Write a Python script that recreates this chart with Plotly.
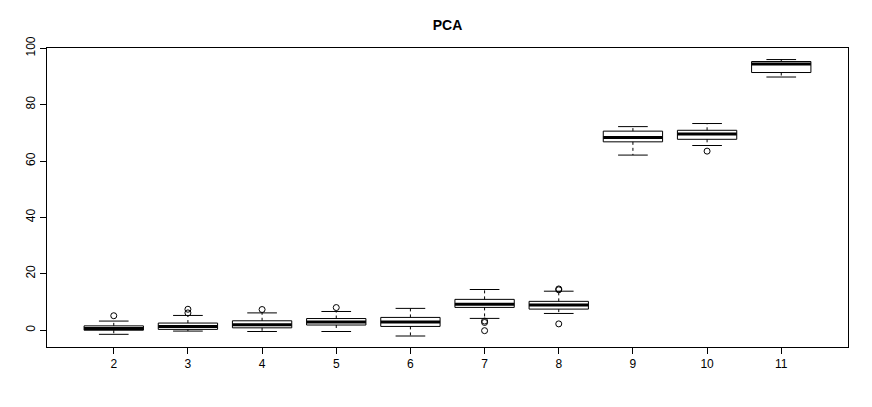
import plotly.graph_objects as go

groups = ["2", "3", "4", "5", "6", "7", "8", "9", "10", "11"]
lower_whisker = [-1.5, -0.35, -0.5, -0.5, -2.1, 4.15, 5.9, 62.1, 65.5, 89.8]
q1 = [-0.05, 0.25, 0.8, 1.8, 1.3, 8.05, 7.45, 66.8, 67.7, 91.4]
median = [0.6, 1.3, 1.9, 2.85, 2.85, 9.2, 8.9, 68.3, 69.6, 94.4]
q3 = [1.5, 2.5, 3.3, 4.1, 4.5, 10.9, 10.2, 70.6, 70.9, 95.3]
upper_whisker = [3.2, 5.2, 6.1, 6.6, 7.7, 14.4, 13.8, 72.2, 73.3, 96.0]
outlier_group = ["2", "3", "3", "4", "5", "7", "7", "7", "8", "8", "8", "10"]
outlier_value = [5.1, 6.1, 7.4, 7.3, 8.0, 3.2, 2.7, -0.2, 14.3, 14.6, 2.2, 63.5]

pos = {g: i + 1 for i, g in enumerate(groups)}
HW = 0.4   # half box width (R default width 0.8)
SW = 0.2   # half staple width

box_x, box_y = [], []
med_x, med_y = [], []
wh_x, wh_y = [], []
st_x, st_y = [], []
for i, g in enumerate(groups):
    p = pos[g]
    box_x += [p - HW, p + HW, p + HW, p - HW, p - HW, None]
    box_y += [q1[i], q1[i], q3[i], q3[i], q1[i], None]
    med_x += [p - HW, p + HW, None]
    med_y += [median[i], median[i], None]
    wh_x += [p, p, None, p, p, None]
    wh_y += [q3[i], upper_whisker[i], None, q1[i], lower_whisker[i], None]
    st_x += [p - SW, p + SW, None, p - SW, p + SW, None]
    st_y += [upper_whisker[i], upper_whisker[i], None, lower_whisker[i], lower_whisker[i], None]

fig = go.Figure()
fig.add_trace(go.Scatter(x=wh_x, y=wh_y, mode="lines",
                         line=dict(color="black", width=1, dash="3px,3px"),
                         hoverinfo="skip", showlegend=False))
fig.add_trace(go.Scatter(x=st_x, y=st_y, mode="lines",
                         line=dict(color="black", width=1),
                         hoverinfo="skip", showlegend=False))
fig.add_trace(go.Scatter(x=box_x, y=box_y, mode="lines",
                         line=dict(color="black", width=1),
                         hoverinfo="skip", showlegend=False))
fig.add_trace(go.Scatter(x=med_x, y=med_y, mode="lines",
                         line=dict(color="black", width=3),
                         hoverinfo="skip", showlegend=False))
fig.add_trace(go.Scatter(x=[pos[g] for g in outlier_group], y=outlier_value,
                         mode="markers",
                         marker=dict(symbol="circle-open", size=6, color="black",
                                     line=dict(width=1, color="black")),
                         showlegend=False))

font = "Liberation Sans, Arial, Helvetica, sans-serif"
fig.update_layout(
    width=872, height=407,
    margin=dict(l=47, r=24, t=48, b=60, autoexpand=False),
    paper_bgcolor="white", plot_bgcolor="white",
    font=dict(family=font, size=12, color="black"),
    title=dict(text="<b>PCA</b>", x=0.5, xanchor="center", xref="paper",
               y=1 - 25 / 407, yanchor="middle", font=dict(size=14, family=font)),
    xaxis=dict(range=[0.1, len(groups) + 0.9], tickmode="array",
               tickvals=[pos[g] for g in groups], ticktext=groups,
               showgrid=False, zeroline=False, showline=True, mirror=True,
               linecolor="black", linewidth=1, ticks="outside", ticklen=6,
               tickcolor="black", tickfont=dict(size=12)),
    yaxis=dict(range=[-6.0, 100.1], tickmode="array",
               tickvals=[0, 20, 40, 60, 80, 100],
               showgrid=False, zeroline=False, showline=True, mirror=True,
               linecolor="black", linewidth=1, ticks="outside", ticklen=6,
               tickcolor="black", tickangle=-90, tickfont=dict(size=12)),
)
fig.write_html("out.html", config={"displayModeBar": False})

# remove the browser's default page margin so the figure sits at the window origin
with open("out.html", "r", encoding="utf-8") as f:
    html = f.read()
html = html.replace("<head>", "<head><style>html,body{margin:0;padding:0;overflow:hidden;}</style>", 1)
with open("out.html", "w", encoding="utf-8") as f:
    f.write(html)
